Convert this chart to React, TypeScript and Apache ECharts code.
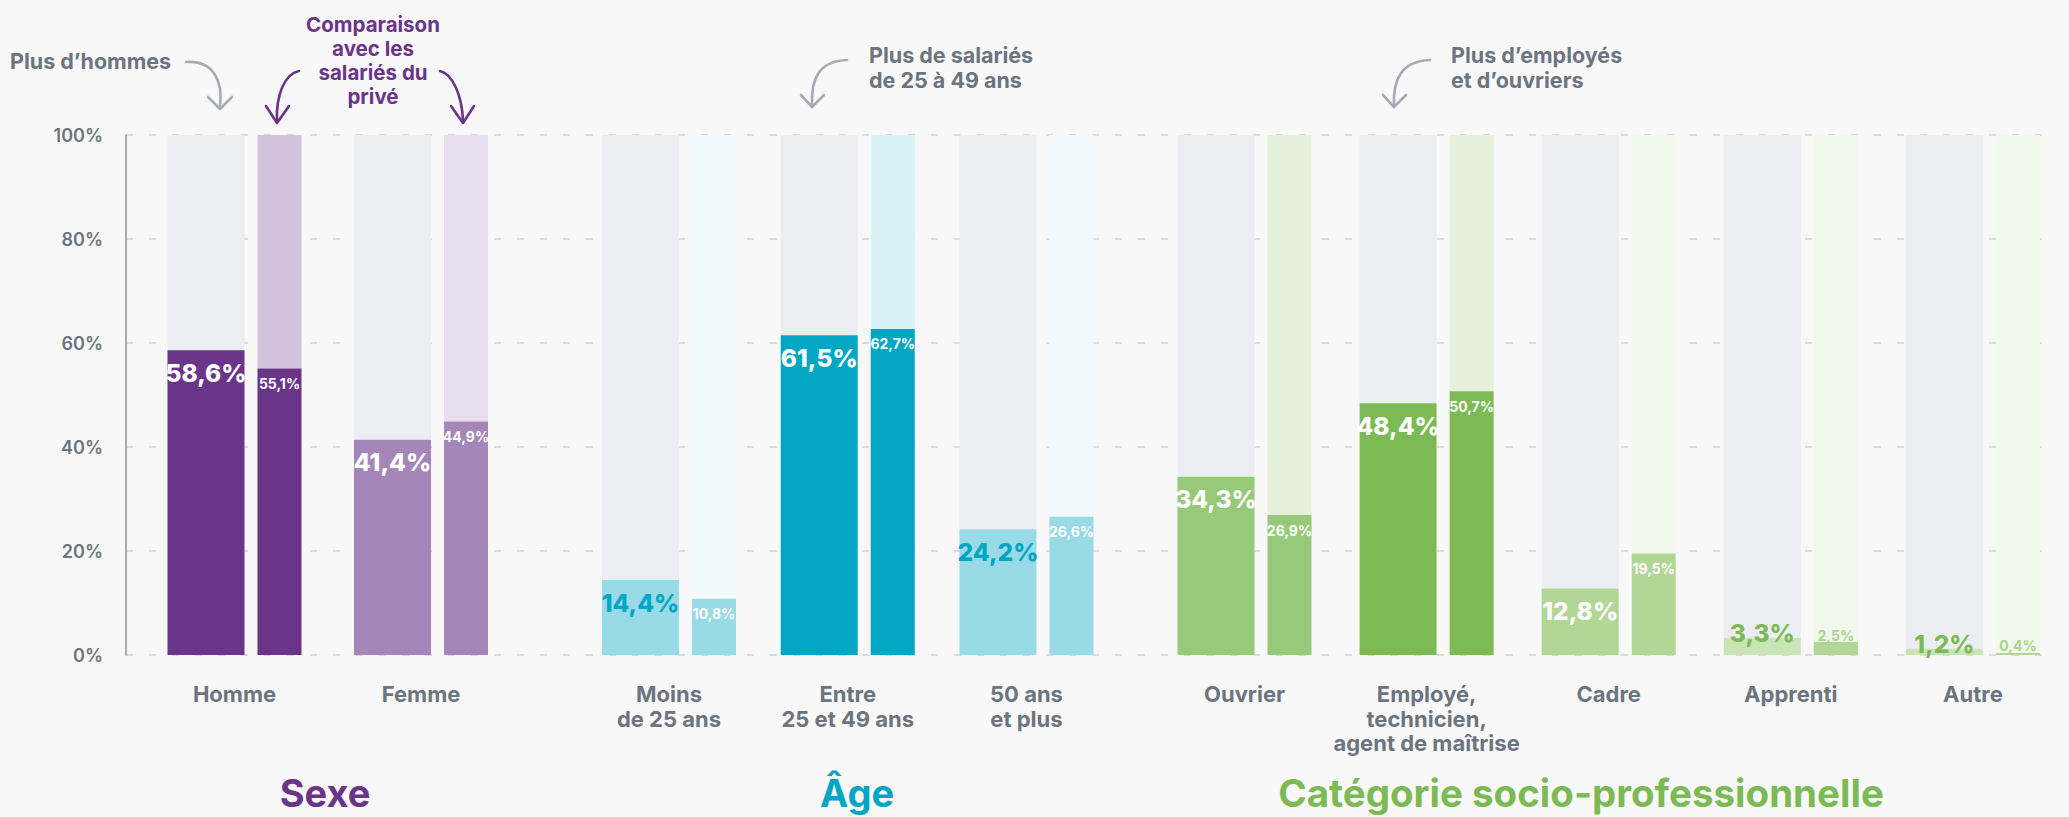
import React, { useEffect, useRef } from 'react';
import * as echarts from 'echarts';

// ---------- DATA ----------
const sexeCategories = ['Homme', 'Femme'];
const sexeValues = [58.6, 41.4];
const sexePrive = [55.1, 44.9];

const ageCategories = ['Moins\nde 25 ans', 'Entre\n25 et 49 ans', '50 ans\net plus'];
const ageValues = [14.4, 61.5, 24.2];
const agePrive = [10.8, 62.7, 26.6];

const cspCategories = ['Ouvrier', 'Employé,\ntechnicien,\nagent de maîtrise', 'Cadre', 'Apprenti', 'Autre'];
const cspValues = [34.3, 48.4, 12.8, 3.3, 1.2];
const cspPrive = [26.9, 50.7, 19.5, 2.5, 0.4];

const yMin = 0;
const yMax = 100;
const yInterval = 20;

// ---------- STYLES ----------
const FONT = 'Inter, "Open Sans", "DejaVu Sans", sans-serif';
const GRAY_TEXT = '#6C7480';
const ARROW_GRAY = '#A6ABB3';
const PURPLE = '#6A3589';
const CYAN = '#00A6C4';
const GREEN = '#7CBA55';
const REST_GRAY = '#ECEDF1';

const sexeStyle = {
  main: ['#6A3589', '#A586B8'],
  prive: ['#6A3589', '#A586B8'],
  priveRest: ['#D3C3DD', '#E8DFEE'],
  mainLabel: ['#FFFFFF', '#FFFFFF'],
  priveLabel: ['#FFFFFF', '#FFFFFF'],
};
const ageStyle = {
  main: ['#98DAE6', '#00A6C4', '#98DAE6'],
  prive: ['#98DAE6', '#00A6C4', '#98DAE6'],
  priveRest: ['#F1FAFC', '#D9F2F6', '#F1FAFC'],
  mainLabel: [CYAN, '#FFFFFF', CYAN],
  priveLabel: ['#FFFFFF', '#FFFFFF', '#FFFFFF'],
};
const cspStyle = {
  main: ['#98C97A', '#7CBA55', '#B2D696', '#C9E5B8', '#C9E5B8'],
  prive: ['#98C97A', '#7CBA55', '#B2D696', '#B2D696', '#B2D696'],
  priveRest: ['#E5F1DC', '#E5F1DC', '#F1F8EC', '#F1F8EC', '#F1F8EC'],
  mainLabel: ['#FFFFFF', '#FFFFFF', '#FFFFFF', GREEN, GREEN],
  priveLabel: ['#FFFFFF', '#FFFFFF', '#FFFFFF', '#A9D38E', '#A9D38E'],
};

const fmt = (v: number) => v.toFixed(1).replace('.', ',') + '%';

function makeSeries(g: number, values: number[], prive: number[], st: any) {
  const small = 5;
  return [
    {
      type: 'bar', xAxisIndex: g, yAxisIndex: g, stack: 'main' + g, barWidth: 77, barGap: '16.9%', z: 3,
      data: values.map((v, i) => ({
        value: v,
        itemStyle: { color: st.main[i] },
        label: {
          show: true,
          position: v < small ? 'top' : 'insideTop',
          distance: v < small ? -8 : 10,
          color: st.mainLabel[i],
          fontSize: 24.5,
          fontWeight: 800,
          fontFamily: FONT,
          formatter: fmt(v),
        },
      })),
    },
    {
      type: 'bar', xAxisIndex: g, yAxisIndex: g, stack: 'main' + g, barWidth: 77, barGap: '16.9%', z: 2, silent: true,
      data: values.map((v) => ({ value: yMax - v, itemStyle: { color: REST_GRAY } })),
    },
    {
      type: 'bar', xAxisIndex: g, yAxisIndex: g, stack: 'prive' + g, barWidth: 44, barGap: '16.9%', z: 3,
      data: prive.map((v, i) => ({
        value: v,
        itemStyle: { color: st.prive[i] },
        label: {
          show: true,
          position: v < small ? 'top' : 'insideTop',
          distance: v < small ? 0 : 8,
          color: st.priveLabel[i],
          fontSize: 14,
          fontWeight: 700,
          fontFamily: FONT,
          formatter: fmt(v),
        },
      })),
    },
    {
      type: 'bar', xAxisIndex: g, yAxisIndex: g, stack: 'prive' + g, barWidth: 44, barGap: '16.9%', z: 2, silent: true,
      data: prive.map((v, i) => ({ value: yMax - v, itemStyle: { color: st.priveRest[i] } })),
    },
  ];
}

const TOP = 135;
const H = 520;

function catAxis(g: number, data: string[]) {
  return {
    type: 'category', gridIndex: g, data,
    axisLine: { show: false }, axisTick: { show: false }, splitLine: { show: false },
    axisLabel: {
      interval: 0, margin: 27, color: GRAY_TEXT, fontSize: 22, fontWeight: 700,
      lineHeight: 24.5, fontFamily: FONT,
    },
  };
}
function hiddenY(g: number) {
  return { type: 'value', gridIndex: g, min: yMin, max: yMax, interval: yInterval, show: false, splitLine: { show: false } };
}

function arrow(pts: number[], head: number[][], color: string) {
  const [x1, y1, cpx1, cpy1, cpx2, cpy2, x2, y2] = pts;
  return [
    {
      type: 'bezierCurve', silent: true,
      shape: { x1, y1, cpx1, cpy1, cpx2, cpy2, x2, y2 },
      style: { stroke: color, lineWidth: 2.6, fill: null, lineCap: 'round' },
    },
    {
      type: 'polyline', silent: true,
      shape: { points: head },
      style: { stroke: color, lineWidth: 2.6, fill: null, lineCap: 'round', lineJoin: 'round' },
    },
  ];
}

function text(x: number, y: number, t: string, color: string, size: number, align = 'left', lh = 24.5) {
  return {
    type: 'text', x, y, silent: true,
    style: {
      text: t, fill: color, fontSize: size, fontWeight: 700, fontFamily: FONT,
      textAlign: align, textVerticalAlign: 'middle', lineHeight: lh,
    },
  };
}

export default function App() {
  const ref = useRef<HTMLDivElement>(null);
  useEffect(() => {
    if (!ref.current) return;
    const chart = echarts.init(ref.current, null, { renderer: 'svg' });
    const option: any = {
      animation: false,
      backgroundColor: '#F8F8F8',
      grid: [
        { left: 126, top: TOP, width: 1932, height: H, outerBoundsMode: 'none', containLabel: false },
        { left: 141.25, top: TOP, width: 373, height: H, outerBoundsMode: 'none', containLabel: false },
        { left: 579.6, top: TOP, width: 536.25, height: H, outerBoundsMode: 'none', containLabel: false },
        { left: 1153.45, top: TOP, width: 910.5, height: H, outerBoundsMode: 'none', containLabel: false },
      ],
      xAxis: [
        { type: 'value', gridIndex: 0, min: 0, max: 1, show: false },
        catAxis(1, sexeCategories),
        catAxis(2, ageCategories),
        catAxis(3, cspCategories),
      ],
      yAxis: [
        {
          type: 'value', gridIndex: 0, min: yMin, max: yMax, interval: yInterval,
          axisLine: { show: true, lineStyle: { color: '#8E949C', width: 1.5 } },
          axisTick: { show: false },
          axisLabel: {
            formatter: '{value}%', color: GRAY_TEXT, fontSize: 18, fontWeight: 600,
            fontFamily: FONT, margin: 23,
          },
          splitLine: { show: true, lineStyle: { color: '#D8DADD', width: 2, type: [7, 16] } },
        },
        hiddenY(1),
        hiddenY(2),
        hiddenY(3),
      ],
      series: [
        ...makeSeries(1, sexeValues, sexePrive, sexeStyle),
        ...makeSeries(2, ageValues, agePrive, ageStyle),
        ...makeSeries(3, cspValues, cspPrive, cspStyle),
      ],
      graphic: [
        text(10, 61, 'Plus d’hommes', GRAY_TEXT, 21.5),
        ...arrow([186, 62, 214, 60, 223, 82, 220, 106], [[208, 97], [220, 109], [232, 97]], ARROW_GRAY),
        text(373, 60.5, 'Comparaison\navec les\nsalariés du\nprivé', PURPLE, 20.5, 'center', 24.3),
        ...arrow([299, 71, 284, 74, 276, 96, 277, 121], [[266, 106], [277, 123], [289, 106]], PURPLE),
        ...arrow([440, 71, 453, 74, 462, 96, 463, 121], [[451, 106], [463, 123], [474, 106]], PURPLE),
        text(869, 67.5, 'Plus de salariés\nde 25 à 49 ans', GRAY_TEXT, 21.5, 'left', 25),
        ...arrow([847, 60, 818, 61, 811, 80, 812, 105], [[801, 95], [812, 107], [824, 95]], ARROW_GRAY),
        text(1451, 67.5, 'Plus d’employés\net d’ouvriers', GRAY_TEXT, 21.5, 'left', 25),
        ...arrow([1430, 60, 1401, 61, 1393, 80, 1394, 105], [[1383, 95], [1394, 107], [1406, 95]], ARROW_GRAY),
        text(325, 793, 'Sexe', PURPLE, 38, 'center', 40),
        text(857, 793, 'Âge', CYAN, 38, 'center', 40),
        text(1581, 793, 'Catégorie socio-professionnelle', GREEN, 38.5, 'center', 40),
      ],
    };
    chart.setOption(option);
    return () => chart.dispose();
  }, []);
  return (
    <div
      ref={ref}
      style={{ position: 'fixed', left: 0, top: 0, width: '2069px', height: '817px', background: '#F8F8F8' }}
    />
  );
}
